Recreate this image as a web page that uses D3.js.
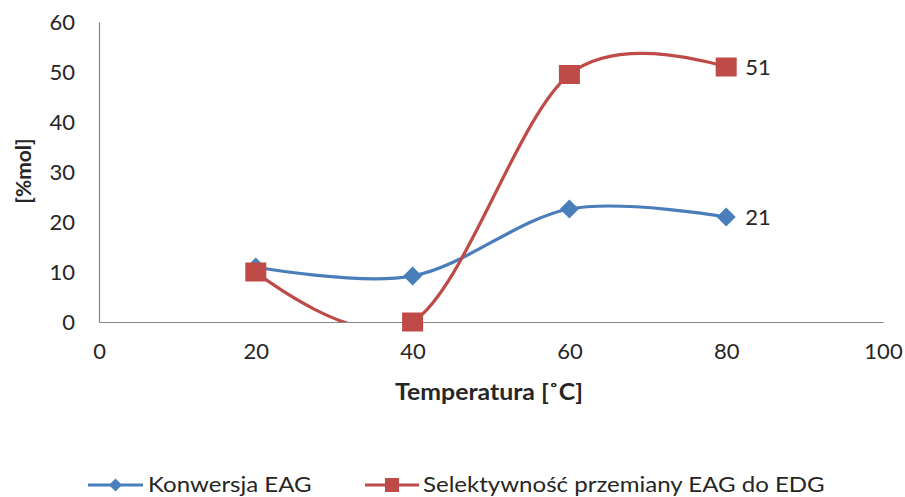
<!DOCTYPE html>
<html>
<head>
<meta charset="utf-8">
<script src="https://cdn.jsdelivr.net/npm/d3@7"></script>
<style>
  html, body { margin: 0; padding: 0; background: #fff; }
  svg text { font-family: Lato, "Open Sans", sans-serif; fill: #262626; }
</style>
</head>
<body>
<svg id="chart" width="905" height="497"></svg>
<script>
// Temperature points [°C]
const temperatures = [20, 40, 60, 80];
// Conversion of EAG [%mol]
const konwersja = [11, 9.2, 22.6, 21];
// Selectivity of EAG -> EDG conversion [%mol]
const selektywnosc = [10, 0, 49.5, 51];

const xTicks = [0, 20, 40, 60, 80, 100];
const yTicks = [0, 10, 20, 30, 40, 50, 60];

const seriesNames = ["Konwersja EAG", "Selektywność przemiany EAG do EDG"];
const seriesColors = ["#4A7EBB", "#BE4B48"];
const endLabels = ["21", "51"];

const svg = d3.select("#chart");
const m = { left: 99, right: 22, top: 22, bottom: 175 };
const W = 905, H = 497;

const x = d3.scaleLinear().domain([0, 100]).range([m.left, W - m.right]);
const y = d3.scaleLinear().domain([0, 60]).range([H - m.bottom, m.top]);

// clip region for the smoothed lines
svg.append("defs").append("clipPath").attr("id", "plotClip")
  .append("rect")
  .attr("x", x(0)).attr("y", y(60))
  .attr("width", x(100) - x(0)).attr("height", y(0) - y(60));

// Axes
const xAxis = svg.append("g").attr("transform", `translate(0,${y(0)})`)
  .call(d3.axisBottom(x).tickValues(xTicks).tickSize(0).tickPadding(21));
const yAxis = svg.append("g").attr("transform", `translate(${x(0)},0)`)
  .call(d3.axisLeft(y).tickValues(yTicks).tickSize(0).tickPadding(24));
[xAxis, yAxis].forEach(g => {
  g.select(".domain").attr("stroke", "#868686").attr("stroke-width", 1.2);
  g.selectAll("text").style("font-size", "22px").attr("fill", "#262626");
});

// Axis titles (slightly widened lettering)
svg.append("text")
  .attr("transform", "translate(489,400) scale(1.13,1)")
  .attr("text-anchor", "middle")
  .style("font-size", "22px").style("font-weight", "bold")
  .text("Temperatura [˚C]");
svg.append("text")
  .attr("transform", `translate(31,171) rotate(-90)`)
  .attr("text-anchor", "middle")
  .style("font-size", "21px").style("font-weight", "bold")
  .text("[%mol]");

const series = [konwersja, selektywnosc];
const line = d3.line()
  .x(d => x(d[0])).y(d => y(d[1]))
  .curve(d3.curveCardinal.tension(0));

const diamond = s => `M0,${-s}L${s},0L0,${s}L${-s},0Z`;

series.forEach((vals, i) => {
  const pts = temperatures.map((t, j) => [t, vals[j]]);
  svg.append("path")
    .datum(pts)
    .attr("clip-path", "url(#plotClip)")
    .attr("d", line)
    .attr("fill", "none")
    .attr("stroke", seriesColors[i])
    .attr("stroke-width", 3.2);

  const g = svg.append("g");
  pts.forEach(p => {
    if (i === 0) {
      g.append("path").attr("d", diamond(9.5))
        .attr("transform", `translate(${x(p[0])},${y(p[1])})`)
        .attr("fill", seriesColors[i]);
    } else {
      g.append("rect")
        .attr("x", x(p[0]) - 10.5).attr("y", y(p[1]) - 9.5)
        .attr("width", 21).attr("height", 19)
        .attr("fill", seriesColors[i]);
    }
  });

  const last = pts[pts.length - 1];
  svg.append("text")
    .attr("x", x(last[0]) + 19).attr("y", y(last[1]))
    .attr("dy", "0.36em")
    .style("font-size", "22px")
    .text(endLabels[i]);
});

// Legend
const legendItems = [
  { x0: 88, x1: 143, tx: 148 },
  { x0: 365, x1: 419, tx: 423 }
];
const ly = 485;
legendItems.forEach((it, i) => {
  const g = svg.append("g");
  g.append("line")
    .attr("x1", it.x0).attr("x2", it.x1).attr("y1", ly).attr("y2", ly)
    .attr("stroke", seriesColors[i]).attr("stroke-width", 3.2);
  const cx = (it.x0 + it.x1) / 2;
  if (i === 0) {
    g.append("path").attr("d", diamond(6.5))
      .attr("transform", `translate(${cx},${ly})`).attr("fill", seriesColors[i]);
  } else {
    g.append("rect").attr("x", cx - 7).attr("y", ly - 7)
      .attr("width", 14).attr("height", 14).attr("fill", seriesColors[i]);
  }
  g.append("text")
    .attr("transform", `translate(${it.tx},${ly}) scale(1.145,1)`)
    .attr("dy", "0.34em")
    .style("font-size", "21px")
    .text(seriesNames[i]);
});
</script>
</body>
</html>
